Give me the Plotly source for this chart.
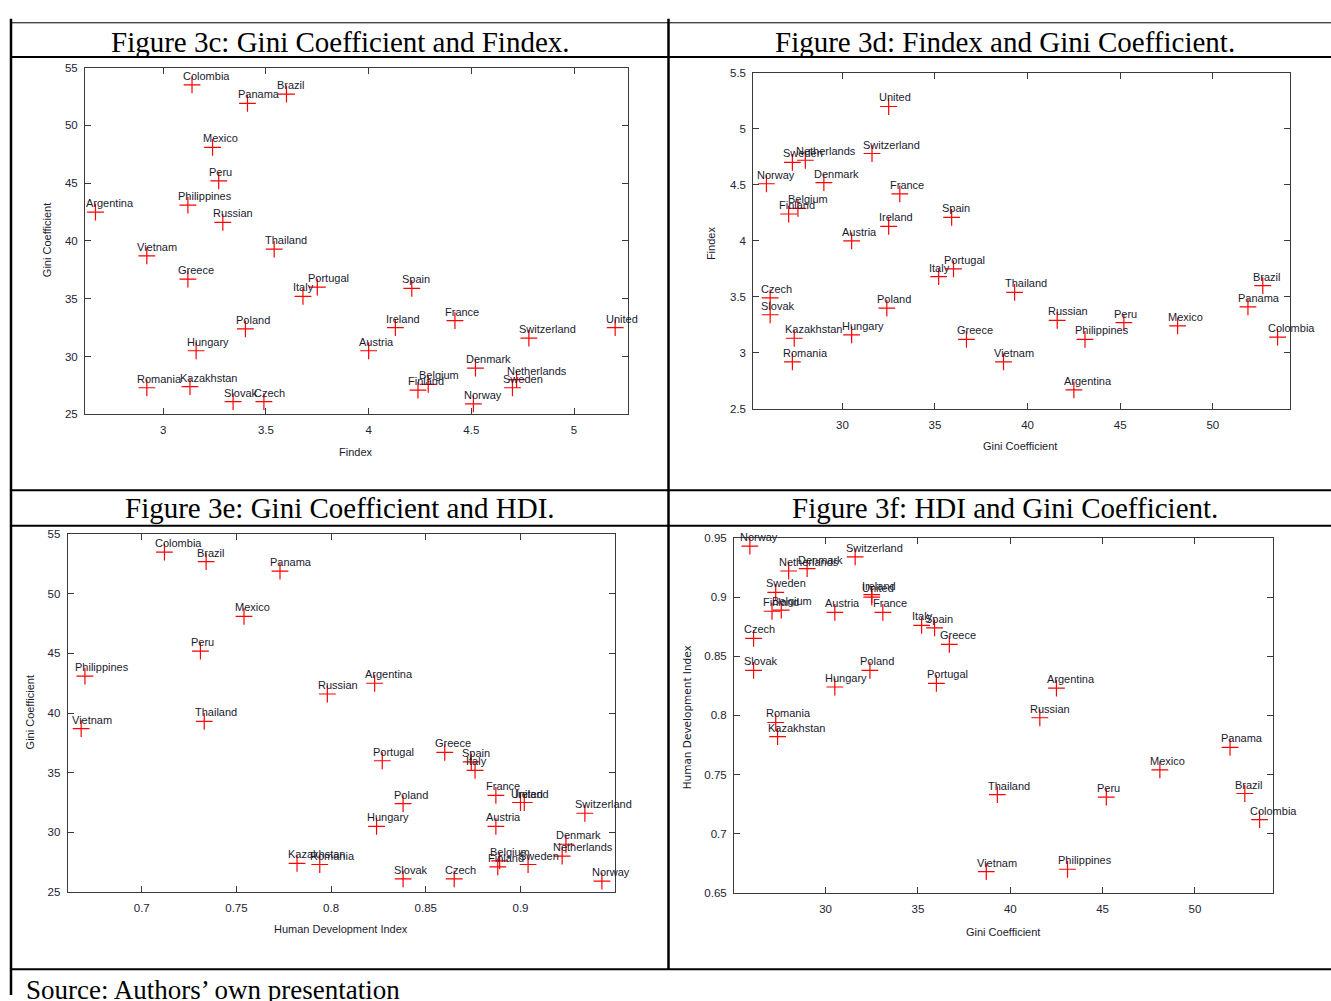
import plotly.graph_objects as go

# ---------------- data ----------------
countries = ["Argentina", "Austria", "Belgium", "Brazil", "Colombia", "Czech", "Denmark",
             "Finland", "France", "Greece", "Hungary", "Ireland", "Italy", "Kazakhstan",
             "Mexico", "Netherlands", "Norway", "Panama", "Peru", "Philippines", "Poland",
             "Portugal", "Romania", "Russian", "Slovak", "Spain", "Sweden", "Switzerland",
             "Thailand", "United", "Vietnam"]
gini = [42.5, 30.5, 27.6, 52.7, 53.5, 26.1, 29.0,
        27.1, 33.1, 36.7, 30.5, 32.5, 35.2, 27.4,
        48.1, 28.0, 25.9, 51.9, 45.2, 43.1, 32.4,
        36.0, 27.3, 41.6, 26.1, 35.9, 27.3, 31.6,
        39.3, 32.5, 38.7]
findex = [2.67, 4.00, 4.29, 3.60, 3.14, 3.49, 4.52,
          4.24, 4.42, 3.12, 3.16, 4.13, 3.68, 3.13,
          3.24, 4.72, 4.51, 3.41, 3.27, 3.12, 3.40,
          3.75, 2.92, 3.29, 3.34, 4.21, 4.70, 4.78,
          3.54, 5.20, 2.92]
hdi = [0.823, 0.887, 0.889, 0.734, 0.712, 0.865, 0.924,
       0.888, 0.887, 0.860, 0.824, 0.902, 0.876, 0.782,
       0.754, 0.922, 0.943, 0.773, 0.731, 0.670, 0.838,
       0.827, 0.794, 0.798, 0.838, 0.874, 0.904, 0.934,
       0.733, 0.900, 0.668]

panel_titles = ["Figure 3c: Gini Coefficient and Findex.",
                "Figure 3d: Findex and Gini Coefficient.",
                "Figure 3e: Gini Coefficient and HDI.",
                "Figure 3f: HDI and Gini Coefficient."]
source_text = "Source: Authors\u2019 own presentation"

# ---------------- layout helpers ----------------
W, H = 1331, 1001


def fx(p):
    return p / W


def fy(p):
    return 1 - p / H


TICKFONT = dict(family="Liberation Sans, Arial, sans-serif", size=11.5, color="#222233")
LABFONT = dict(family="Liberation Sans, Arial, sans-serif", size=11, color="#1a1a2e")
AXCOL = "#3a3a3a"

panels = [
    dict(x=findex, y=gini, xpx=(85, 628.3), ypx=(62.3, 413.3),
         xr=[2.619, 5.264], yr=[25, 55], xt=(3, 0.5), yt=(25, 5),
         xtitle=("Findex", 356, 451), ytitle=("Gini Coefficient", 47, 237), yfont=None),
    dict(x=gini, y=findex, xpx=(753.3, 1290), ypx=(67.7, 407.7),
         xr=[25.19, 54.17], yr=[2.5, 5.5], xt=(30, 5), yt=(2.5, 0.5),
         xtitle=("Gini Coefficient", 1020, 445), ytitle=("Findex", 711, 240), yfont=None),
    dict(x=hdi, y=gini, xpx=(67.7, 614.8), ypx=(534.6, 896.7),
         xr=[0.6609, 0.9498], yr=[25, 55], xt=(0.7, 0.05), yt=(25, 5),
         xtitle=("Human Development Index", 341, 934), ytitle=("Gini Coefficient", 30, 715), yfont=None),
    dict(x=gini, y=hdi, xpx=(734, 1272.7), ypx=(538.3, 897.7),
         xr=[25.04, 54.21], yr=[0.65, 0.95], xt=(30, 5), yt=(0.65, 0.05),
         xtitle=("Gini Coefficient", 1003, 937), ytitle=("Human Development Index", 687, 720),
         yfont=dict(family="DejaVu Sans, Verdana, sans-serif", size=10.5, color="#1a1a2e")),
]

fig = go.Figure()
annotations = []
layout_axes = {}

for i, p in enumerate(panels, start=1):
    xa = "x" if i == 1 else f"x{i}"
    ya = "y" if i == 1 else f"y{i}"
    fig.add_trace(go.Scatter(
        x=p["x"], y=p["y"], mode="markers", xaxis=xa, yaxis=ya,
        marker=dict(symbol="cross-thin", size=12, color="#ff0000",
                    line=dict(color="#ff0000", width=1.2)),
        showlegend=False, hoverinfo="skip", cliponaxis=False))
    common = dict(showgrid=False, zeroline=False, showline=True, linecolor=AXCOL, linewidth=1,
                  ticks="inside", ticklen=6, tickwidth=1, tickcolor=AXCOL, mirror="ticks",
                  tickfont=TICKFONT)
    layout_axes["xaxis" if i == 1 else f"xaxis{i}"] = dict(
        domain=[fx(p["xpx"][0]), fx(p["xpx"][1])], range=p["xr"], anchor=ya,
        tick0=p["xt"][0], dtick=p["xt"][1], ticklabelstandoff=5, **common)
    layout_axes["yaxis" if i == 1 else f"yaxis{i}"] = dict(
        domain=[fy(p["ypx"][1]), fy(p["ypx"][0])], range=p["yr"], anchor=xa,
        tick0=p["yt"][0], dtick=p["yt"][1], ticklabelstandoff=4, **common)
    # point labels
    for name, xv, yv in zip(countries, p["x"], p["y"]):
        annotations.append(dict(x=xv, y=yv, xref=xa, yref=ya, text=name, showarrow=False,
                                xanchor="left", yanchor="middle", xshift=-11.5, yshift=9,
                                font=LABFONT))
    # axis titles
    t, cx, cy = p["xtitle"]
    annotations.append(dict(x=fx(cx), y=fy(cy), xref="paper", yref="paper", text=t,
                            showarrow=False, xanchor="center", yanchor="middle",
                            font=dict(family="Liberation Sans, Arial, sans-serif", size=11, color="#1a1a2e")))
    t, cx, cy = p["ytitle"]
    annotations.append(dict(x=fx(cx), y=fy(cy), xref="paper", yref="paper", text=t,
                            showarrow=False, xanchor="center", yanchor="middle", textangle=-90,
                            font=p["yfont"] or dict(family="Liberation Sans, Arial, sans-serif", size=11, color="#1a1a2e")))

# panel titles
TITLEFONT = dict(family="Liberation Serif, Times New Roman, serif", size=29, color="#000000")
for t, cx, cy in zip(panel_titles, [340, 1005, 340, 1005], [36, 36, 508, 508]):
    annotations.append(dict(x=fx(cx), y=fy(cy), xref="paper", yref="paper", text=t,
                            showarrow=False, xanchor="center", yanchor="middle", font=TITLEFONT))
annotations.append(dict(x=fx(24), y=fy(996), xref="paper", yref="paper", text=source_text,
                        showarrow=False, xanchor="left", yanchor="middle",
                        font=dict(family="Liberation Serif, Times New Roman, serif", size=27, color="#000000")))

# table lines
shapes = []


def hline(y, x0, x1, w):
    shapes.append(dict(type="line", xref="paper", yref="paper", x0=fx(x0), x1=fx(x1),
                       y0=fy(y), y1=fy(y), line=dict(color="#000000", width=w)))


def vline(x, y0, y1, w):
    shapes.append(dict(type="line", xref="paper", yref="paper", x0=fx(x), x1=fx(x),
                       y0=fy(y0), y1=fy(y1), line=dict(color="#000000", width=w)))


hline(17, 10, 1331, 1)
hline(51.5, 10, 1331, 2)
hline(490, 10, 1331, 2)
hline(526, 10, 1331, 2)
hline(975, 10, 1331, 2)
vline(11, 13, 1001, 2.5)
vline(668.5, 13, 975, 2.5)

fig.update_layout(width=W, height=H, margin=dict(l=0, r=0, t=0, b=0),
                  paper_bgcolor="white", plot_bgcolor="white",
                  annotations=annotations, shapes=shapes, **layout_axes)

fig.write_html("out.html", config={"displayModeBar": False},
               post_script="document.body.style.margin='0';document.body.style.overflow='hidden';")
